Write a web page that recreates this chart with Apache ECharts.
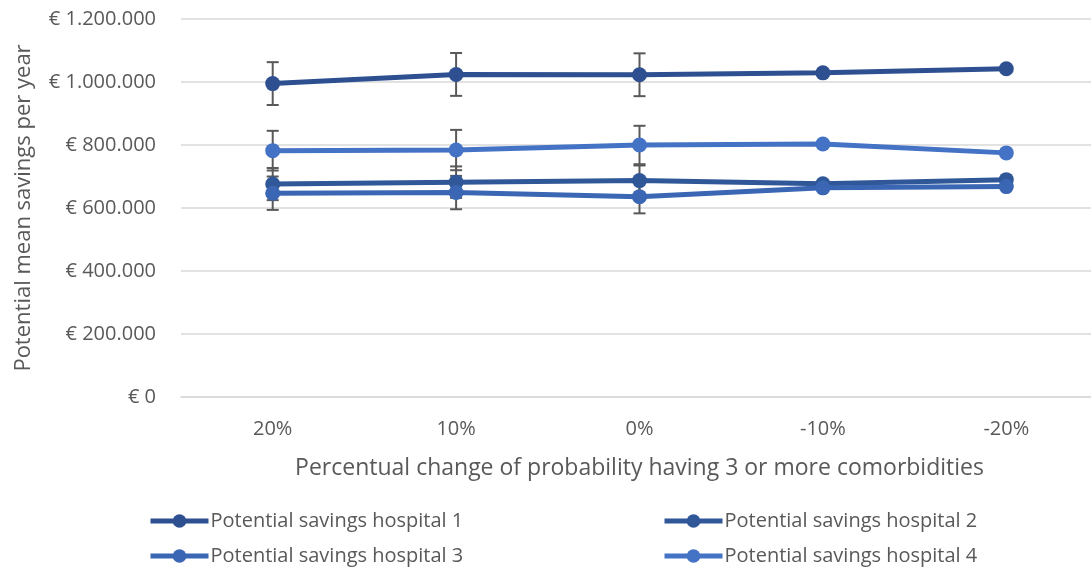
<!DOCTYPE html>
<html>
<head>
<meta charset="utf-8">
<script src="https://cdn.jsdelivr.net/npm/echarts@6/dist/echarts.min.js"></script>
<style>html,body{margin:0;padding:0;background:#fff;overflow:hidden}#c{width:1098px;height:570px}</style>
</head>
<body>
<div id="c"></div>
<script>
const categories = ['20%', '10%', '0%', '-10%', '-20%'];
const seriesNames = ['Potential savings hospital 1', 'Potential savings hospital 2', 'Potential savings hospital 3', 'Potential savings hospital 4'];
const hospital1 = [995000, 1024000, 1023000, 1029000, 1042000];
const hospital2 = [676000, 682000, 687000, 677000, 690000];
const hospital3 = [647000, 649000, 636000, 664000, 668000];
const hospital4 = [782000, 784000, 800000, 803000, 775000];
// symmetric error half-widths (only first three categories have error bars)
const err1 = [68000, 68000, 68000, null, null];
const err2 = [51000, 50000, 48000, null, null];
const err3 = [53000, 53000, 53000, null, null];
const err4 = [63000, 64000, 61000, null, null];
const yTicks = [0, 200000, 400000, 600000, 800000, 1000000, 1200000];

const colors = ['#2E5090', '#305798', '#3A66B3', '#4472C4'];
const values = [hospital1, hospital2, hospital3, hospital4];
const errs = [err1, err2, err3, err4];
const font = '"Open Sans", "Noto Sans", sans-serif';
const txt = '#595959';

function fmt(v) {
  return '€ ' + String(v).replace(/\B(?=(\d{3})+(?!\d))/g, '.');
}

const errData = [];
values.forEach((vals, s) => {
  vals.forEach((v, i) => {
    if (errs[s][i] != null) errData.push([i, v - errs[s][i], v + errs[s][i]]);
  });
});

const chart = echarts.init(document.getElementById('c'), null, {renderer: 'canvas'});
const lineSeries = values.map((vals, s) => ({
  name: seriesNames[s],
  type: 'line',
  data: vals,
  z: 3 + s,
  symbol: 'circle',
  symbolSize: 15,
  lineStyle: {width: 5, color: colors[s]},
  itemStyle: {color: colors[s]},
  emphasis: {disabled: true},
  animation: false
}));
const legendPos = [[148, 511], [662, 511], [148, 546], [662, 546]];
chart.setOption({
  animation: false,
  grid: {left: 181, top: 19, right: 0, bottom: 173, containLabel: false},
  xAxis: {
    type: 'category',
    data: categories,
    boundaryGap: true,
    axisLine: {show: true, lineStyle: {color: '#d9d9d9', width: 1.5}},
    axisTick: {show: false},
    axisLabel: {color: txt, fontFamily: font, fontSize: 20, margin: 22},
    name: 'Percentual change of probability having 3 or more comorbidities',
    nameLocation: 'middle',
    nameGap: 60,
    nameTextStyle: {color: txt, fontFamily: font, fontSize: 23}
  },
  yAxis: {
    type: 'value',
    min: yTicks[0],
    max: yTicks[yTicks.length - 1],
    interval: 200000,
    axisLine: {show: false},
    axisTick: {show: false},
    splitLine: {lineStyle: {color: '#d9d9d9', width: 1.5}},
    axisLabel: {color: txt, fontFamily: font, fontSize: 20, margin: 25, formatter: fmt},
    name: 'Potential mean savings per year',
    nameLocation: 'middle',
    nameGap: 146,
    nameRotate: 90,
    nameTextStyle: {color: txt, fontFamily: font, fontSize: 22}
  },
  legend: seriesNames.map((n, i) => ({
    data: [n],
    left: legendPos[i][0],
    top: legendPos[i][1],
    padding: 0,
    itemWidth: 58,
    itemHeight: 17,
    itemGap: 4,
    selectedMode: false,
    lineStyle: {width: 5},
    textStyle: {color: txt, fontFamily: font, fontSize: 20, padding: [0, 0, 0, -3]}
  })),
  series: [{
    type: 'custom',
    z: 1,
    silent: true,
    data: errData,
    renderItem: function (params, api) {
      const x = api.value(0);
      const lo = api.coord([x, api.value(1)]);
      const hi = api.coord([x, api.value(2)]);
      const hw = 6;
      const st = {stroke: '#595959', lineWidth: 2};
      return {
        type: 'group',
        children: [
          {type: 'line', shape: {x1: lo[0], y1: lo[1], x2: hi[0], y2: hi[1]}, style: st},
          {type: 'line', shape: {x1: lo[0] - hw, y1: lo[1], x2: lo[0] + hw, y2: lo[1]}, style: st},
          {type: 'line', shape: {x1: hi[0] - hw, y1: hi[1], x2: hi[0] + hw, y2: hi[1]}, style: st}
        ]
      };
    }
  }].concat(lineSeries)
});
</script>
</body>
</html>
